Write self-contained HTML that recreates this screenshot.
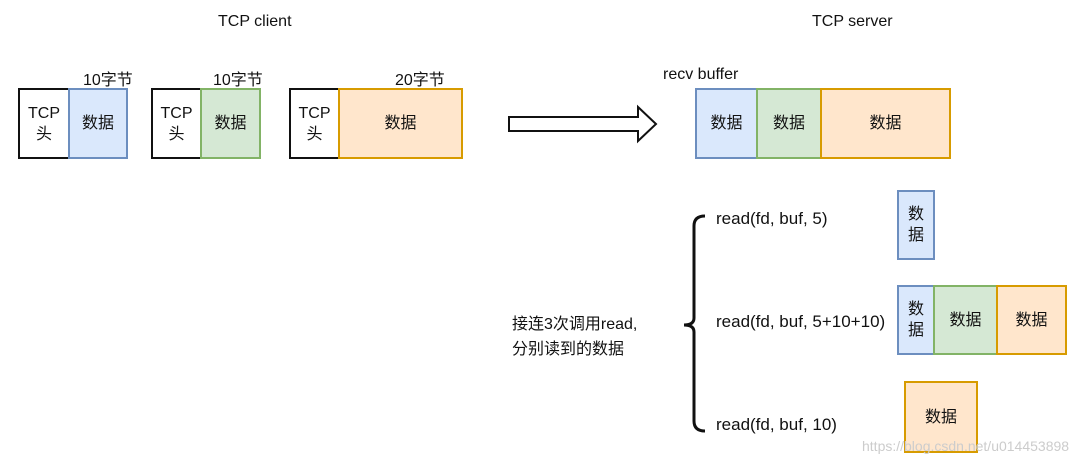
<!DOCTYPE html>
<html><head><meta charset="utf-8"><style>
body{margin:0;width:1080px;height:464px;background:#fff;position:relative;overflow:hidden;font-family:"Liberation Sans","Noto Sans CJK SC",sans-serif;color:#111}
.b{position:absolute;box-sizing:border-box;border:2px solid;display:flex;align-items:center;justify-content:center;text-align:center;font-size:16px;line-height:21px}
.k{border-color:#111;background:#fff}
.bl{border-color:#6c8ebf;background:#dae8fc}
.gr{border-color:#82b366;background:#d5e8d4}
.or{border-color:#d79b00;background:#ffe6cc}
.t{position:absolute;font-size:16px;white-space:nowrap}
</style></head><body>
<div class="t" style="left:218px;top:13px">TCP client</div>
<div class="t" style="left:812px;top:13px">TCP server</div>
<div class="t" style="left:83px;top:66px">10字节</div>
<div class="t" style="left:213px;top:66px">10字节</div>
<div class="t" style="left:395px;top:66px">20字节</div>
<div class="t" style="left:663px;top:66px">recv buffer</div>

<div class="b k" style="left:18px;top:88px;width:52px;height:71px">TCP<br>头</div>
<div class="b bl" style="left:68px;top:88px;width:60px;height:71px">数据</div>
<div class="b k" style="left:151px;top:88px;width:51px;height:71px">TCP<br>头</div>
<div class="b gr" style="left:200px;top:88px;width:61px;height:71px">数据</div>
<div class="b k" style="left:289px;top:88px;width:51px;height:71px">TCP<br>头</div>
<div class="b or" style="left:338px;top:88px;width:125px;height:71px">数据</div>

<svg style="position:absolute;left:0;top:0" width="1080" height="464">
<polygon points="509,117 638,117 638,107 656,124 638,141 638,131 509,131" fill="#fff" stroke="#111" stroke-width="2"/>
<path d="M705,216 Q694,216 694,226 L694,318 Q694,325 684,325 Q694,325 694,332 L694,421 Q694,431 705,431" fill="none" stroke="#111" stroke-width="3"/>
</svg>

<div class="b bl" style="left:695px;top:88px;width:63px;height:71px">数据</div>
<div class="b gr" style="left:756px;top:88px;width:66px;height:71px">数据</div>
<div class="b or" style="left:820px;top:88px;width:131px;height:71px">数据</div>

<div class="t" style="left:716px;top:209px;font-size:17px">read(fd, buf, 5)</div>
<div class="t" style="left:716px;top:312px;font-size:17px">read(fd, buf, 5+10+10)</div>
<div class="t" style="left:716px;top:415px;font-size:17px">read(fd, buf, 10)</div>
<div class="t" style="left:512px;top:312px;line-height:25px">接连3次调用read,<br>分别读到的数据</div>

<div class="b bl" style="left:897px;top:190px;width:38px;height:70px">数<br>据</div>
<div class="b bl" style="left:897px;top:285px;width:38px;height:70px">数<br>据</div>
<div class="b gr" style="left:933px;top:285px;width:65px;height:70px">数据</div>
<div class="b or" style="left:996px;top:285px;width:71px;height:70px">数据</div>
<div class="b or" style="left:904px;top:381px;width:74px;height:72px">数据</div>
<div class="t" style="left:862px;top:438px;color:#ccc;font-size:14px">https://blog.csdn.net/u014453898</div>
</body></html>
